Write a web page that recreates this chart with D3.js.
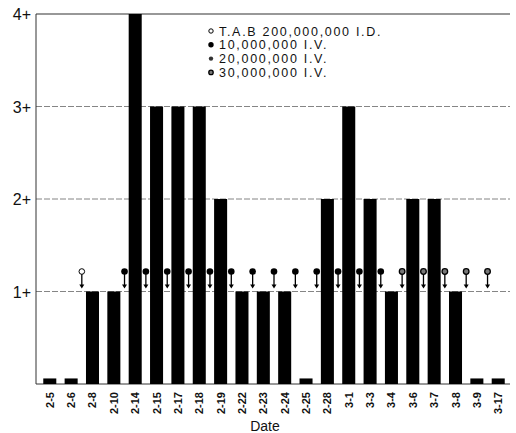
<!DOCTYPE html>
<html><head><meta charset="utf-8">
<script src="https://cdn.jsdelivr.net/npm/d3@7"></script>
<style>body{margin:0;background:#fff}svg{display:block}text{font-family:"Liberation Sans",Arial,sans-serif}</style>
</head><body><svg id="c" width="516" height="433"></svg>
<script>
const dates = ["2-5","2-6","2-8","2-10","2-14","2-15","2-17","2-18","2-19","2-22","2-23","2-24","2-25","2-28","3-1","3-3","3-4","3-6","3-7","3-8","3-9","3-17"];
const grades = [0.06,0.06,1,1,4,3,3,3,2,1,1,1,0.06,2,3,2,1,2,2,1,0.06,0.06];
const yTicks = [1,2,3,4];
const yTickLabels = ["1+","2+","3+","4+"];
// doses given after the named date (marker sits between that bar and the next)
const doseAfter = ["2-6","2-10","2-14","2-15","2-17","2-18","2-19","2-22","2-23","2-24","2-25","2-28","3-1","3-3","3-4","3-6","3-7","3-8","3-9"];
const doseType  = ["tab","10","10","10","10","10","10","10","10","10","10","10","10","10","30","30","30","30","30"];
const legendLabels = ["T.A.B 200,000,000 I.D.","10,000,000 I.V.","20,000,000 I.V.","30,000,000 I.V."];
const legendTypes = ["tab","10","20","30"];

const svg = d3.select("#c");
const m = {l:36, r:6, t:14, b:49};
const W = 516, H = 433;
const x = d3.scaleBand().domain(dates).range([39, 509]).paddingInner(0.39).paddingOuter(0.2);
const y = d3.scaleLinear().domain([0,4]).range([H-m.b, m.t]);

// gridlines
svg.append("g").selectAll("line").data(yTicks).join("line")
  .attr("x1", m.l).attr("x2", W-m.r).attr("y1", d=>y(d)).attr("y2", d=>y(d))
  .attr("stroke", d=>d===4?"#333":"#666").attr("stroke-width", d=>d===4?1.2:0.8)
  .attr("stroke-dasharray", d=>d===4?null:"6,2");

// axes lines
svg.append("line").attr("x1", m.l).attr("x2", m.l).attr("y1", y(4)).attr("y2", y(0)).attr("stroke","#333").attr("stroke-width",1);
svg.append("line").attr("x1", m.l).attr("x2", W-m.r).attr("y1", y(0)).attr("y2", y(0)).attr("stroke","#333").attr("stroke-width",1);

// y labels
svg.append("g").selectAll("text").data(yTicks).join("text")
  .attr("x", 31).attr("y", d=>y(d)+6).attr("text-anchor","end")
  .attr("font-size", 16).attr("fill","#111").text((d,i)=>yTickLabels[i]);

// bars
svg.append("g").selectAll("rect").data(dates).join("rect")
  .attr("x", d=>x(d)).attr("width", x.bandwidth())
  .attr("y", (d,i)=>y(grades[i])).attr("height", (d,i)=>y(0)-y(grades[i]))
  .attr("fill","#000");

// x labels
svg.append("g").selectAll("text").data(dates).join("text")
  .attr("transform", d=>`translate(${x(d)+x.bandwidth()/2+4},392) rotate(-90)`)
  .attr("text-anchor","end").attr("font-size", 11).attr("font-weight","bold").attr("fill","#111")
  .text(d=>d);

svg.append("text").attr("x", 265).attr("y", 431).attr("text-anchor","middle")
  .attr("font-size", 14).attr("fill","#111").text("Date");

// dose markers
const step = x.step();
function marker(g, cx, cy, type, r){
  if(type==="tab"){
    g.append("circle").attr("cx",cx).attr("cy",cy).attr("r",r).attr("fill","#fff").attr("stroke","#000").attr("stroke-width",1);
  } else if(type==="10"){
    g.append("circle").attr("cx",cx).attr("cy",cy).attr("r",r+0.5).attr("fill","#000");
  } else if(type==="20"){
    g.append("circle").attr("cx",cx).attr("cy",cy).attr("r",r).attr("fill","#333");
  } else {
    g.append("circle").attr("cx",cx).attr("cy",cy).attr("r",r).attr("fill","#777").attr("stroke","#000").attr("stroke-width",1.3);
  }
}
const mg = svg.append("g");
doseAfter.forEach((d,i)=>{
  const cx = x(d) + x.bandwidth() + (step - x.bandwidth())/2;
  const cy = y(1) - 20;
  mg.append("line").attr("x1",cx).attr("x2",cx).attr("y1",cy).attr("y2",y(1)-5).attr("stroke","#000").attr("stroke-width",1.3);
  mg.append("path").attr("d", `M${cx-2.5},${y(1)-7} L${cx+2.5},${y(1)-7} L${cx},${y(1)-3} Z`).attr("fill","#000");
  marker(mg, cx, cy, doseType[i], 2.8);
});

// legend
const lg = svg.append("g");
legendLabels.forEach((t,i)=>{
  const yy = 31 + i*13.8;
  marker(lg, 211, yy, legendTypes[i], 2.2);
  lg.append("text").attr("x", 219).attr("y", yy+4.5).attr("font-size", 12.5)
    .attr("letter-spacing", 1.7).attr("fill","#111").text(t);
});
</script></body></html>
